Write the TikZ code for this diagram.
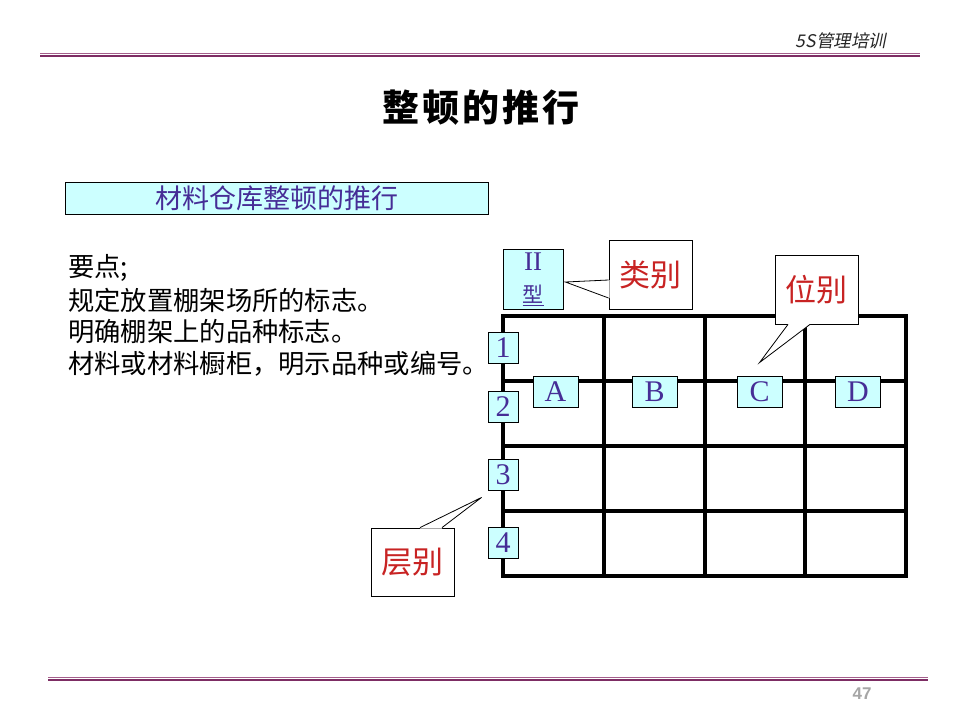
\documentclass[tikz,border=0pt]{standalone}
\usepackage{fontspec}
\setmainfont{Liberation Serif}
\newfontfamily\cjk{Noto Sans CJK SC}
\newfontfamily\cjkit[FakeSlant=0.2]{Noto Sans CJK SC}
\newfontfamily\pagefont{Liberation Sans}
\usepackage{tikz}
\usetikzlibrary{calc, positioning}

\definecolor{tagcyan}{RGB}{204,255,255}
\definecolor{tagink}{RGB}{70,45,150}
\definecolor{callred}{RGB}{200,35,35}
\definecolor{ruleline}{RGB}{125,45,100}
\definecolor{rulethin}{RGB}{165,95,140}

\tikzset{
  cyanbox/.style={draw=black, fill=tagcyan, line width=0.8pt, inner sep=0pt},
  rowtag/.style={cyanbox, minimum width=30, minimum height=31,
    text=tagink, font=\fontsize{30}{30}\selectfont},
  coltag/.style={cyanbox, minimum width=45, minimum height=31,
    text=tagink, font=\fontsize{30}{30}\selectfont},
  callbox/.style={draw=black, fill=white, line width=0.8pt, inner sep=0pt,
    minimum width=83, minimum height=69, text=callred,
    font=\cjk\fontsize{31}{31}\selectfont},
  callline/.style={draw=black, line width=0.8pt},
  gridline/.style={line width=4pt, black},
  pointtext/.style={anchor=west, inner sep=0pt,
    font=\cjk\fontsize{26.3}{26.3}\selectfont}
}

\begin{document}
\begin{tikzpicture}[x=1pt, y=-1pt]
  \useasboundingbox (0,0) rectangle (960,720);
  \fill[white] (0,0) rectangle (960,720);

  % page header and footer
  \node[font=\cjkit\fontsize{17.5}{17.5}\selectfont, text=black!85] (course) at (841,40.5) {5S管理培训};
  \draw[rulethin, line width=1pt] (40,53) -- (920,53);
  \draw[ruleline, line width=2.5pt] (40,56) -- (920,56);
  \draw[rulethin, line width=1pt] (48,677) -- (928,677);
  \draw[ruleline, line width=2.5pt] (48,680) -- (928,680);
  \node[font=\pagefont\bfseries\fontsize{17}{17}\selectfont, text=black!35] (pageno) at (862,694) {47};

  % title
  \node[font=\cjk\bfseries\fontsize{37}{37}\selectfont\addfontfeature{LetterSpace=8}] (title) at (481,108) {整顿的推行};
  \node[cyanbox, minimum width=423, minimum height=32, text=tagink,
    font=\cjk\fontsize{27}{27}\selectfont] (sub) at (276.5,198) {材料仓库整顿的推行};

  % key points
  \node[pointtext] (pt0) at (68,268) {要点;};
  \node[pointtext] (pt1) at (68,300) {规定放置棚架场所的标志。};
  \node[pointtext] (pt2) at (68,332) {明确棚架上的品种标志。};
  \node[pointtext] (pt3) at (68,364) {材料或材料橱柜，明示品种或编号。};

  % shelf grid
  \draw[gridline] (503,316) rectangle (906,576);
  \foreach \x in {604,705,805}
    \draw[gridline] (\x,316) -- (\x,576);
  \foreach \y in {381,446,511}
    \draw[gridline] (503,\y) -- (906,\y);

  % tags
  \node[cyanbox, minimum width=60, minimum height=60, text=tagink,
    align=center, font=\fontsize{27}{32}\selectfont] (typ) at (533,279)
    {II\\{\cjk\fontsize{21}{21}\selectfont\underline{型}}};
  \node[rowtag] (r1) at (503,347.5) {1};
  \node[rowtag] (r2) at (503,407) {2};
  \node[rowtag] (r3) at (503,474.5) {3};
  \node[rowtag] (r4) at (503,543) {4};
  \node[coltag] (cA) at (555.5,391.5) {A};
  \node[coltag] (cB) at (654.5,391.5) {B};
  \node[coltag] (cC) at (759.5,391.5) {C};
  \node[coltag] (cD) at (858,391.5) {D};

  % callouts
  \coordinate (kindtip) at ($(typ.east)+(2,3)$);
  \coordinate (posntip) at ($(cC.north)+(0,-13)$);
  \coordinate (layertip) at ($(r3.south west)+(-6,7)$);

  \node[callbox] (kind) at (650.5,274.5) {类别};
  \fill[white] ($(kind.west)+(1,5.5)$) -- ($(kind.west)+(0,5.5)$) -- (kindtip)
    -- ($(kind.west)+(0,23.5)$) -- ($(kind.west)+(1,23.5)$) -- cycle;
  \draw[callline] ($(kind.west)+(0,5.5)$) -- (kindtip) -- ($(kind.west)+(0,23.5)$);

  \node[callbox] (posn) at (816.5,289.5) {位别};
  \fill[white] ($(posn.south)+(-28.5,-1)$) -- ($(posn.south)+(-28.5,0)$) -- (posntip)
    -- ($(posn.south)+(-6.5,0)$) -- ($(posn.south)+(-6.5,-1)$) -- cycle;
  \draw[callline] ($(posn.south)+(-28.5,0)$) -- (posntip) -- ($(posn.south)+(-6.5,0)$);

  \node[callbox, minimum height=68] (layer) at (412.5,562) {层别};
  \fill[white] ($(layer.north)+(7.5,1)$) -- ($(layer.north)+(7.5,0)$) -- (layertip)
    -- ($(layer.north)+(29.5,0)$) -- ($(layer.north)+(29.5,1)$) -- cycle;
  \draw[callline] ($(layer.north)+(7.5,0)$) -- (layertip) -- ($(layer.north)+(29.5,0)$);
\end{tikzpicture}
\end{document}
